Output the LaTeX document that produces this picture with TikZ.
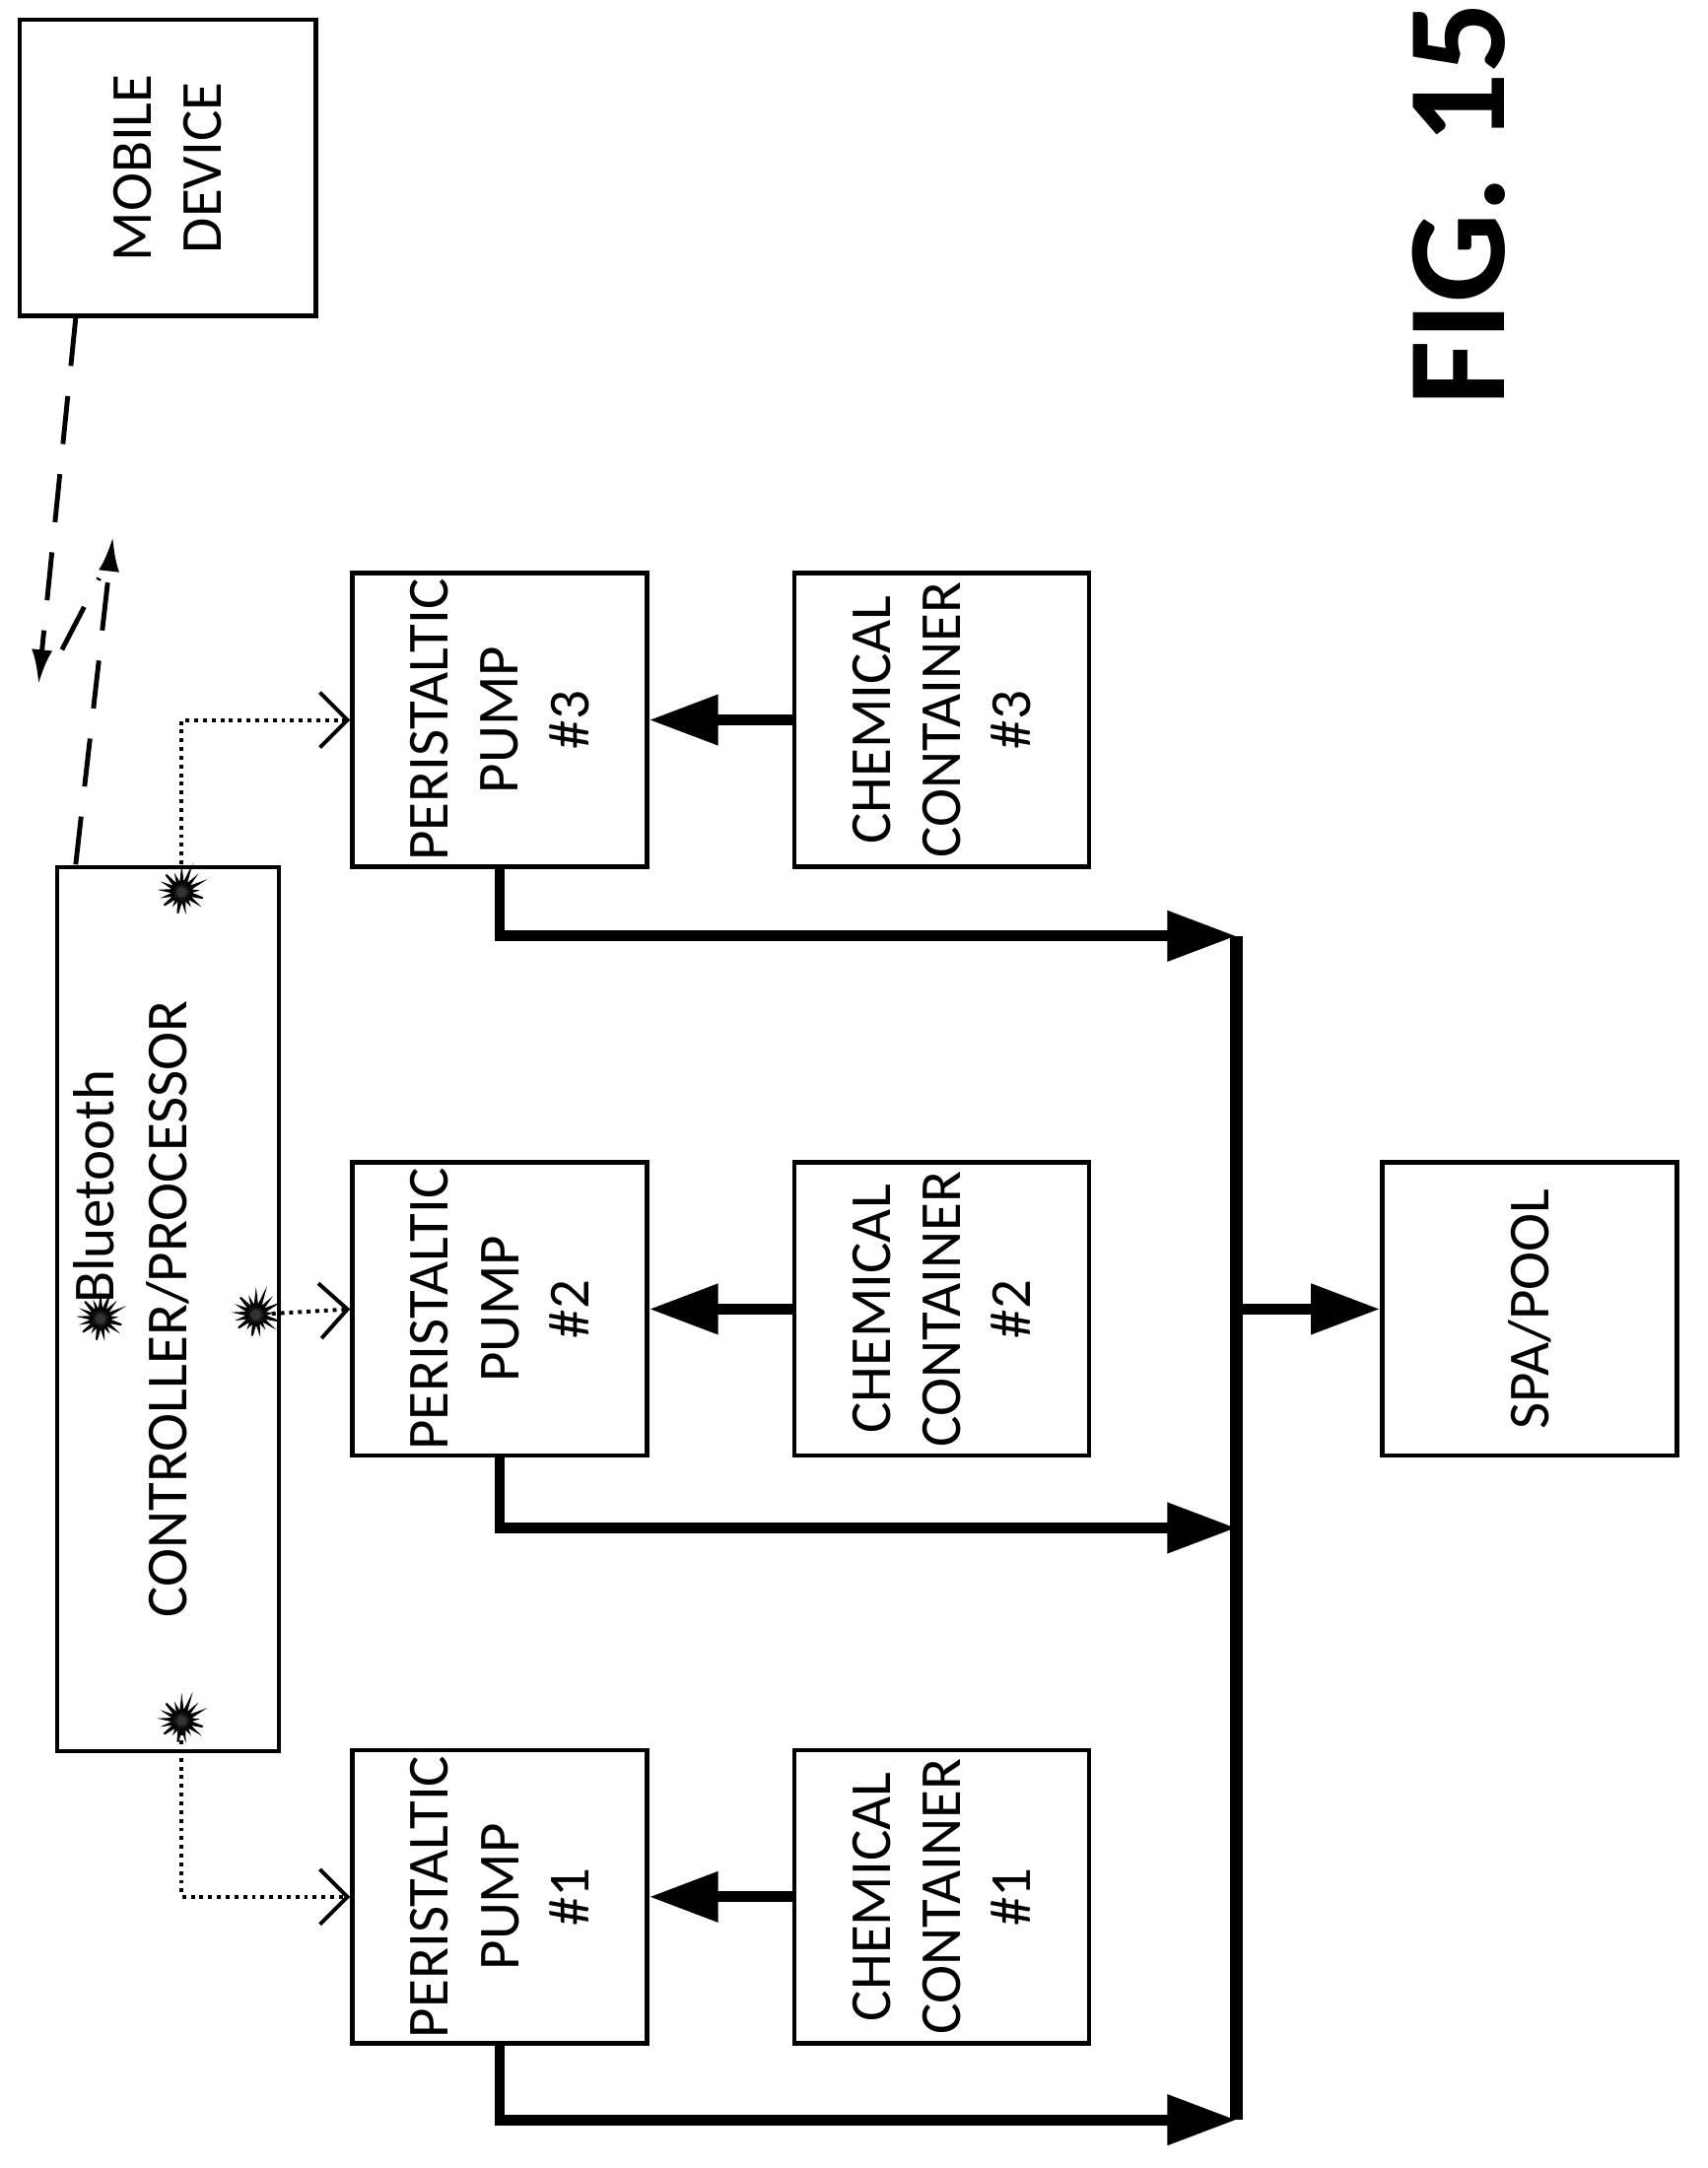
\documentclass[tikz,border=0pt]{standalone}
\usepackage{fontspec}
\setmainfont{Carlito}
\usetikzlibrary{positioning, arrows.meta, shapes.symbols}
\begin{document}
\begin{tikzpicture}[x=0.01cm,y=-0.01cm,
  box/.style={draw,line width=0.9pt,minimum width=2.14cm,minimum height=2.13cm,inner sep=0pt},
  lbl/.style={rotate=90,align=center,font=\fontsize{12}{14.5}\selectfont},
  flow/.style={line width=2.2pt,-{Triangle[length=5mm,width=3.5mm]}},
  sig/.style={densely dotted,line width=0.8pt,-{Straight Barb[length=2mm]}},
  wave/.style={dash pattern=on 3.5mm off 2.2mm,line width=1pt},
  burst/.style={starburst,starburst point height=1.2mm,fill=black!80,draw=black,inner sep=0pt,minimum size=3.5mm}]
\useasboundingbox (0,0) rectangle (1240,1575);
% boxes
\node[draw,line width=0.9pt,minimum width=2.15cm,minimum height=2.15cm] (mobile) at (122,122) {};
\node[lbl] at (mobile) {MOBILE\\DEVICE};
\node[draw,line width=0.9pt,minimum width=1.61cm,minimum height=6.42cm] (ctrl) at (122,951) {};
\node[lbl] at (122,951) {CONTROLLER/PROCESSOR};
\node[lbl] (bt) at (68,862) {Bluetooth};
\node[burst] (b0) at (73,958) {};
\foreach \n/\y in {3/523,2/951,1/1378}{
  \node[box] (pump\n) at (363,\y) {};
  \node[lbl] at (pump\n) {PERISTALTIC\\PUMP\\\#\n};
  \node[box] (cont\n) at (684,\y) {};
  \node[lbl] at (cont\n) {CHEMICAL\\CONTAINER\\\#\n};
  \draw[flow] (cont\n.west) -- (pump\n.east);
}
\node[box] (spa) at (1111,951) {};
\node[lbl] at (spa) {SPA/POOL};
\node[rotate=90,font=\fontsize{29}{29}\selectfont\bfseries] at (1060,148) {FIG. 15};
% bluetooth points
\node[burst] (b3) at (132,648) {};
\node[burst] (b2) at (186,955) {};
\node[burst] (b1) at (132,1250) {};
\draw[sig] (b3) |- (pump3.west);
\draw[sig] (b2) -- (pump2.west);
\draw[sig] (b1) |- (pump1.west);
% main line
\coordinate (top) at (898,680);
\coordinate (bot) at (898,1540);
\draw[line width=2.5pt] (top) -- (bot);
\draw[flow] (pump3.south) |- (top);
\draw[flow] (pump2.south) |- (898,1110);
\draw[flow] (pump1.south) |- (bot);
\draw[flow] (898,951) -- (spa.west);
% wireless link
\coordinate (w1) at (28,497);
\coordinate (w2) at (82,390);
\draw[wave,-{Latex[length=2.5mm,width=1.5mm]}] (55,231) -- (w1);
\draw[wave] (45,472) -- (72,420);
\draw[wave,-{Latex[length=2.5mm,width=1.5mm]}] (55,628) -- (w2);
\end{tikzpicture}
\end{document}
